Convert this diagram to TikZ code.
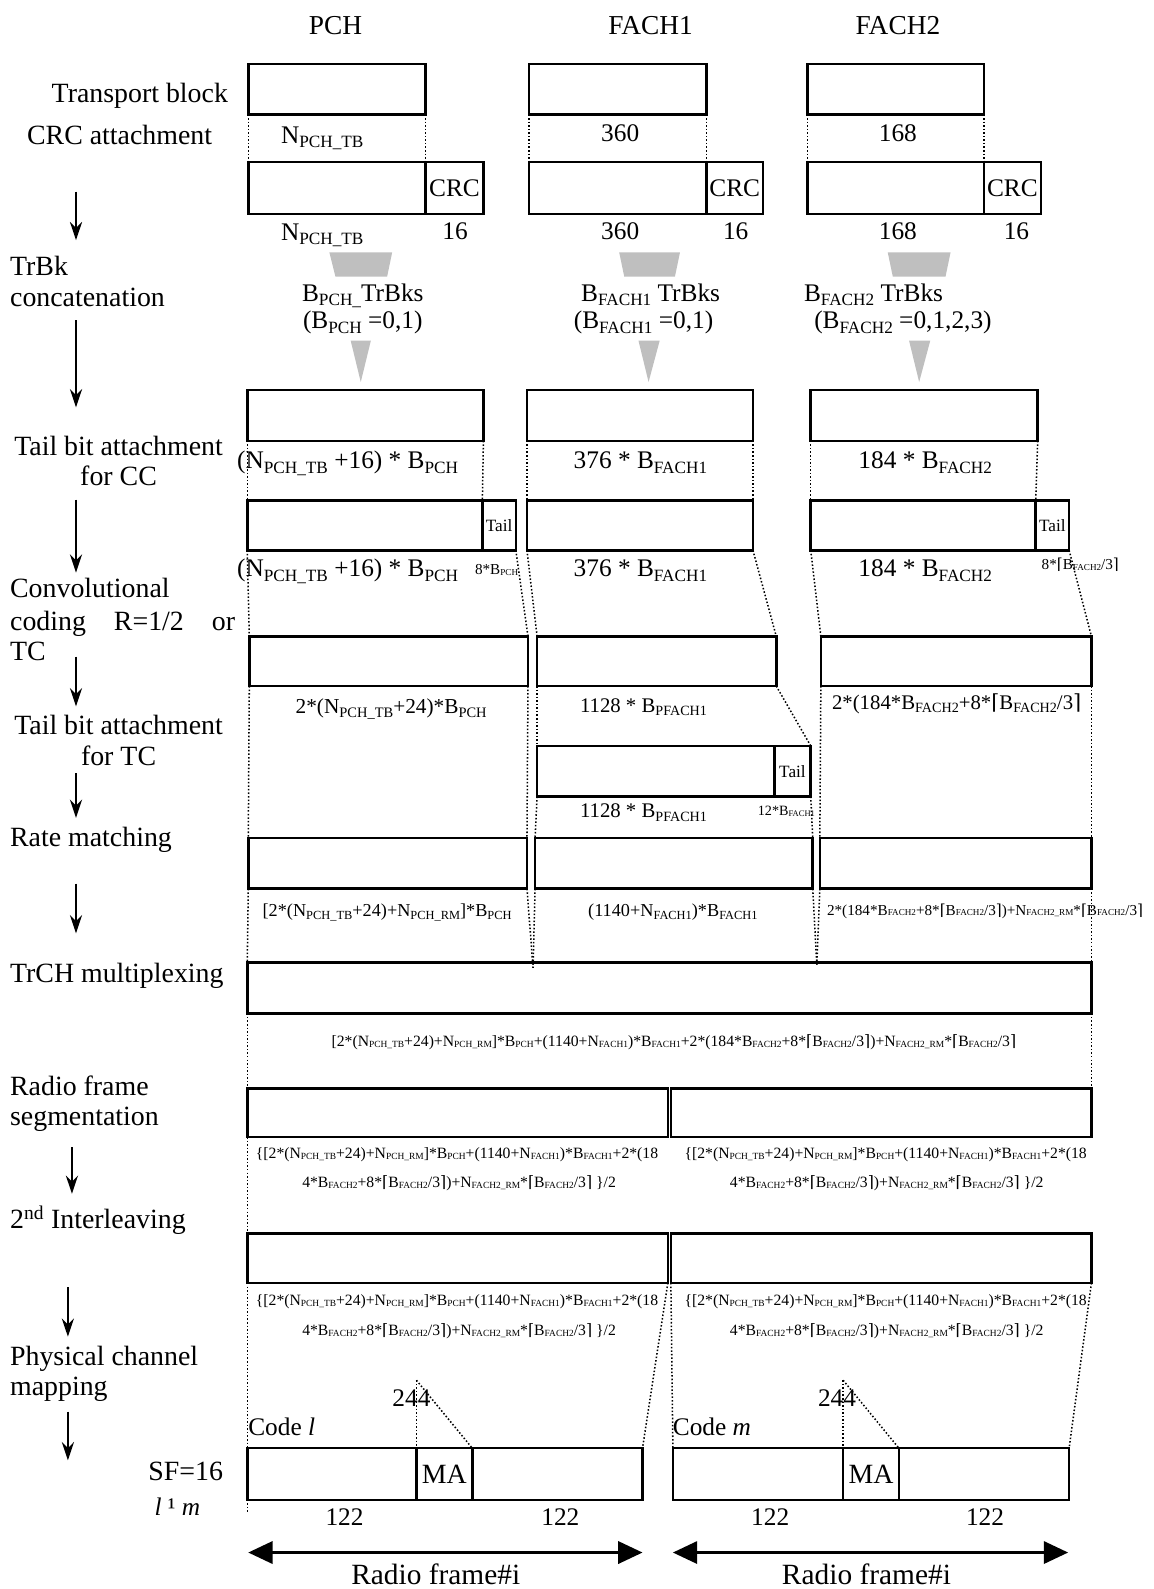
\documentclass[tikz,border=0pt]{standalone}
\usepackage{graphicx}
\usepackage{fontspec}
\setmainfont{Liberation Serif}
\newfontfamily\djv{DejaVu Serif}
\usetikzlibrary{arrows.meta}
\newcommand{\fs}[1]{\fontsize{#1}{#1}\selectfont}
\newcommand{\subr}{0.68}
\newcommand{\subd}{-0.18em}
\newcommand{\sbs}[1]{\raisebox{\subd}{\scalebox{\subr}{#1}}}
\newcommand{\cl}{{\djv ⌈}}
\newcommand{\cry}{{\djv ⌉}}
\tikzset{
  blk/.style={draw, line width=2.5pt, inner sep=0pt, outer sep=0pt, anchor=north west},
  guide/.style={line width=1.5pt, dash pattern=on 1.5pt off 2pt},
  flow/.style={-{Stealth[length=18pt,width=12pt,inset=6pt]}, line width=2pt},
  dbl/.style={{Triangle[length=24pt,width=22pt]}-{Triangle[length=24pt,width=22pt]}, line width=2.5pt},
  T/.style={inner sep=0pt, outer sep=0pt, anchor=base, yshift=-0.33*#1pt, font=\fs{#1}},
  S/.style={T=#1, font={\fs{#1}\def\subr{0.6}\def\subd{-0.05em}}},
  big/.style={T=27.5},
  med/.style={T=25},
  shade/.style={fill=black!25, draw=none}
}
\begin{document}
\begin{tikzpicture}[x=1pt,y=-1pt]
\useasboundingbox (0,0) rectangle (1138,1568);

% ---------------- headers
\node[T=27] (hP) at (331,25) {PCH};
\node[T=27] (hF1) at (642,25) {FACH1};
\node[T=27] (hF2) at (886,25) {FACH2};

% ---------------- left labels
\node[big] (lTB) at (138,92) {Transport block};
\node[big] (lCRC) at (118,134) {CRC attachment};
\node[big, anchor=base west] (lTrBk) at (10,263) {TrBk};
\node[big, anchor=base west] (lConc) at (10,293) {concatenation};
\node[big] (lTail1) at (117,440) {Tail bit attachment};
\node[big] (lTail1b) at (117,470) {for CC};
\node[big, anchor=base west] (lConv) at (10,581) {Convolutional};
\node[big, anchor=base west] (lCod) at (10,613) {\makebox[222pt][s]{coding R=1/2 or}};
\node[big, anchor=base west] (lTC) at (10,643) {TC};
\node[big] (lTail2) at (117,716) {Tail bit attachment};
\node[big] (lTail2b) at (117,746) {for TC};
\node[big, anchor=base west] (lRM) at (10,826) {Rate matching};
\node[big, anchor=base west] (lMux) at (10,960) {TrCH multiplexing};
\node[big, anchor=base west] (lRF) at (10,1072) {Radio frame};
\node[big, anchor=base west] (lSeg) at (10,1102) {segmentation};
\node[big, anchor=base west] (lIL) at (10,1203) {2\textsuperscript{nd} Interleaving};
\node[big, anchor=base west] (lPh) at (10,1338) {Physical channel};
\node[big, anchor=base west] (lMap) at (10,1368) {mapping};
\node[big, anchor=base east] (lSF) at (220,1452) {SF=16};
\node[med] (lLM) at (175,1487) {\textit{l} ¹ \textit{m}};

% ---------------- left arrows
\coordinate (a1s) at (75,189);  \coordinate (a1e) at (75,237);
\coordinate (a2s) at (75,316);  \coordinate (a2e) at (75,402);
\coordinate (a3s) at (75,493);  \coordinate (a3e) at (75,565);
\coordinate (a4s) at (75,648);  \coordinate (a4e) at (75,697);
\coordinate (a5s) at (75,763);  \coordinate (a5e) at (75,807);
\coordinate (a6s) at (75,872);  \coordinate (a6e) at (75,921);
\coordinate (a7s) at (71,1132); \coordinate (a7e) at (71,1178);
\coordinate (a8s) at (67,1270); \coordinate (a8e) at (67,1319);
\coordinate (a9s) at (67,1393); \coordinate (a9e) at (67,1441);
\foreach \i in {1,...,9} { \draw[flow] (a\i s) -- (a\i e); }

% ---------------- row 1: transport blocks
\node[blk, minimum width=175pt, minimum height=50pt] (tbP) at (245,63) {};
\node[blk, minimum width=175pt, minimum height=50pt] (tbF1) at (522,63) {};
\node[blk, minimum width=174pt, minimum height=50pt] (tbF2) at (797,63) {};
\node[med] (n1) at (318,133) {N\sbs{PCH\_TB}};
\node[med] (n2) at (612,131) {360};
\node[med] (n3) at (886,131) {168};

% ---------------- row 2: CRC
\node[blk, minimum width=175pt, minimum height=51pt] (crcP) at (245,160) {};
\node[blk, minimum width=57pt, minimum height=51pt, font=\fs{25}] (crcPc) at (420,160) {CRC};
\node[blk, minimum width=175pt, minimum height=51pt] (crcF1) at (522,160) {};
\node[blk, minimum width=56pt, minimum height=51pt, font=\fs{25}] (crcF1c) at (697,160) {CRC};
\node[blk, minimum width=174pt, minimum height=51pt] (crcF2) at (797,160) {};
\node[blk, minimum width=56pt, minimum height=51pt, font=\fs{25}] (crcF2c) at (971,160) {CRC};
\node[med] (n4) at (318,229) {N\sbs{PCH\_TB}};
\node[med] (n5) at (449,228) {16};
\node[med] (n6) at (612,228) {360};
\node[med] (n7) at (726,228) {16};
\node[med] (n8) at (886,228) {168};
\node[med] (n9) at (1003,228) {16};

% ---------------- concatenation shapes
\fill[shade] (325,249) -- (387,249) -- (382,273) -- (331,273) -- cycle;
\fill[shade] (611,249) -- (671,249) -- (666,273) -- (616,273) -- cycle;
\fill[shade] (876,249) -- (938,249) -- (933,273) -- (881,273) -- cycle;
\node[med] (b1) at (358,289) {B\sbs{PCH\_}TrBks};
\node[med] (b2) at (358,316) {(B\sbs{PCH} =0,1)};
\node[med] (b3) at (642,289) {B\sbs{FACH1} TrBks};
\node[med] (b4) at (635,316) {(B\sbs{FACH1} =0,1)};
\node[med] (b5) at (862,289) {B\sbs{FACH2} TrBks};
\node[med] (b6) at (891,316) {(B\sbs{FACH2} =0,1,2,3)};
\fill[shade] (346,336) -- (366,336) -- (356,377) -- cycle;
\fill[shade] (630,336) -- (651,336) -- (640,377) -- cycle;
\fill[shade] (897,336) -- (918,336) -- (907,377) -- cycle;

% ---------------- row 3
\node[blk, minimum width=233pt, minimum height=50pt] (catP) at (244,385) {};
\node[blk, minimum width=223pt, minimum height=50pt] (catF1) at (520,385) {};
\node[blk, minimum width=224pt, minimum height=50pt] (catF2) at (800,385) {};
\node[med] (r3a) at (343,454) {(N\sbs{PCH\_TB} +16) * B\sbs{PCH}};
\node[med] (r3b) at (632,454) {376 * B\sbs{FACH1}};
\node[med] (r3c) at (913,454) {184 * B\sbs{FACH2}};

% ---------------- row 4
\node[blk, minimum width=232pt, minimum height=49pt] (ccP) at (244,494) {};
\node[blk, minimum width=33pt, minimum height=49pt, font=\fs{17}] (ccPt) at (476,494) {Tail};
\node[blk, minimum width=223pt, minimum height=49pt] (ccF1) at (520,494) {};
\node[blk, minimum width=222pt, minimum height=49pt] (ccF2) at (800,494) {};
\node[blk, minimum width=33pt, minimum height=49pt, font=\fs{17}] (ccF2t) at (1022,494) {Tail};
\node[med] (r4a) at (343,561) {(N\sbs{PCH\_TB} +16) * B\sbs{PCH}};
\node[S=15] (r4s1) at (490,562) {8*B\sbs{PCH}};
\node[med] (r4b) at (632,561) {376 * B\sbs{FACH1}};
\node[med] (r4c) at (913,561) {184 * B\sbs{FACH2}};
\node[S=15] (r4s2) at (1066,557) {8*\cl B\sbs{FACH2}/3\cry};

% ---------------- row 5: convolutional coding
\node[blk, minimum width=275pt, minimum height=49pt] (cvP) at (246,628) {};
\node[blk, minimum width=236pt, minimum height=49pt] (cvF1) at (530,628) {};
\node[blk, minimum width=267pt, minimum height=49pt] (cvF2) at (810,628) {};
\node[T=21] (r5a) at (386,697) {2*(N\sbs{PCH\_TB}+24)*B\sbs{PCH}};
\node[T=20.5] (r5b) at (635,696) {1128 * B\sbs{PFACH1}};
\node[T=20.5] (r5c) at (944,693) {2*(184*B\sbs{FACH2}+8*\cl B\sbs{FACH2}/3\cry};

% ---------------- row 6: TC tail
\node[blk, minimum width=234pt, minimum height=50pt] (tcF1) at (530,736) {};
\node[blk, minimum width=36pt, minimum height=50pt, font=\fs{17}] (tcF1t) at (764,736) {Tail};
\node[T=20.5] (r6a) at (635,800) {1128 * B\sbs{PFACH1}};
\node[S=14] (r6s) at (776,800) {12*B\sbs{FACH1}};

% ---------------- row 7: rate matching
\node[blk, minimum width=275pt, minimum height=50pt] (rmP) at (245,827) {};
\node[blk, minimum width=274pt, minimum height=50pt] (rmF1) at (528,827) {};
\node[blk, minimum width=268pt, minimum height=50pt] (rmF2) at (809,827) {};
\node[T=18] (r7a) at (382,898) {[2*(N\sbs{PCH\_TB}+24)+N\sbs{PCH\_RM}]*B\sbs{PCH}};
\node[T=18] (r7b) at (664,898) {(1140+N\sbs{FACH1})*B\sbs{FACH1}};
\node[S=15] (r7c) at (972,898) {2*(184*B\sbs{FACH2}+8*\cl B\sbs{FACH2}/3\cry)+N\sbs{FACH2\_RM}*\cl B\sbs{FACH2}/3\cry};

% ---------------- row 8: multiplexing
\node[blk, minimum width=833pt, minimum height=50pt] (mux) at (244,950) {};
\node[S=15.5] (r8) at (665,1028) {[2*(N\sbs{PCH\_TB}+24)+N\sbs{PCH\_RM}]*B\sbs{PCH}+(1140+N\sbs{FACH1})*B\sbs{FACH1}+2*(184*B\sbs{FACH2}+8*\cl B\sbs{FACH2}/3\cry)+N\sbs{FACH2\_RM}*\cl B\sbs{FACH2}/3\cry};

% ---------------- row 9: segmentation
\node[blk, minimum width=415pt, minimum height=48pt] (seg1) at (244,1074) {};
\node[blk, minimum width=415pt, minimum height=48pt] (seg2) at (662,1074) {};
\node[S=15.5] (s1a) at (451,1138) {\{[2*(N\sbs{PCH\_TB}+24)+N\sbs{PCH\_RM}]*B\sbs{PCH}+(1140+N\sbs{FACH1})*B\sbs{FACH1}+2*(18};
\node[S=15.5] (s1b) at (453,1167) {4*B\sbs{FACH2}+8*\cl B\sbs{FACH2}/3\cry)+N\sbs{FACH2\_RM}*\cl B\sbs{FACH2}/3\cry\ \}/2};
\node[S=15.5] (s2a) at (874,1138) {\{[2*(N\sbs{PCH\_TB}+24)+N\sbs{PCH\_RM}]*B\sbs{PCH}+(1140+N\sbs{FACH1})*B\sbs{FACH1}+2*(18};
\node[S=15.5] (s2b) at (875,1167) {4*B\sbs{FACH2}+8*\cl B\sbs{FACH2}/3\cry)+N\sbs{FACH2\_RM}*\cl B\sbs{FACH2}/3\cry\ \}/2};

% ---------------- row 10: interleaving
\node[blk, minimum width=415pt, minimum height=49pt] (il1) at (244,1217) {};
\node[blk, minimum width=415pt, minimum height=49pt] (il2) at (662,1217) {};
\node[S=15.5] (i1a) at (451,1283) {\{[2*(N\sbs{PCH\_TB}+24)+N\sbs{PCH\_RM}]*B\sbs{PCH}+(1140+N\sbs{FACH1})*B\sbs{FACH1}+2*(18};
\node[S=15.5] (i1b) at (453,1313) {4*B\sbs{FACH2}+8*\cl B\sbs{FACH2}/3\cry)+N\sbs{FACH2\_RM}*\cl B\sbs{FACH2}/3\cry\ \}/2};
\node[S=15.5] (i2a) at (874,1283) {\{[2*(N\sbs{PCH\_TB}+24)+N\sbs{PCH\_RM}]*B\sbs{PCH}+(1140+N\sbs{FACH1})*B\sbs{FACH1}+2*(18};
\node[S=15.5] (i2b) at (875,1313) {4*B\sbs{FACH2}+8*\cl B\sbs{FACH2}/3\cry)+N\sbs{FACH2\_RM}*\cl B\sbs{FACH2}/3\cry\ \}/2};

% ---------------- row 11: physical channels
\node[blk, minimum width=390pt, minimum height=51pt] (pc1) at (244,1429) {};
\node[blk, minimum width=55pt, minimum height=51pt, font=\fs{27.5}] (ma1) at (411,1429) {MA};
\node[blk, minimum width=391pt, minimum height=51pt] (pc2) at (664,1429) {};
\node[blk, minimum width=55pt, minimum height=51pt, font=\fs{27.5}] (ma2) at (832,1429) {MA};
\node[med] (c244a) at (406,1380) {244};
\node[med] (c244b) at (826,1380) {244};
\node[med, anchor=base west] (codeL) at (245,1408) {Code \textit{l}};
\node[med, anchor=base west] (codeM) at (664,1408) {Code \textit{m}};
\node[med] (q1) at (340,1497) {122};
\node[med] (q2) at (553,1497) {122};
\node[med] (q3) at (760,1497) {122};
\node[med] (q4) at (972,1497) {122};

% ---------------- radio frame arrows
\coordinate (rf1a) at (245,1532); \coordinate (rf1b) at (634,1532);
\coordinate (rf2a) at (664,1532); \coordinate (rf2b) at (1054,1532);
\draw[dbl] (rf1a) -- (rf1b);
\draw[dbl] (rf2a) -- (rf2b);
\node[T=29] (rfl1) at (430,1554) {Radio frame\#i};
\node[T=29] (rfl2) at (855,1554) {Radio frame\#i};

% ---------------- dotted guides
\coordinate (m1) at (526,955);
\coordinate (m2) at (806,952);
\coordinate (t1) at (411,1362);
\coordinate (t2) at (832,1362);
\coordinate (stub) at (244,1492);
\draw[guide] (tbP.south west) -- (crcP.north west);
\draw[guide] (tbP.south east) -- (crcP.north east);
\draw[guide] (tbF1.south west) -- (crcF1.north west);
\draw[guide] (tbF1.south east) -- (crcF1.north east);
\draw[guide] (tbF2.south west) -- (crcF2.north west);
\draw[guide] (tbF2.south east) -- (crcF2.north east);
\draw[guide] (catP.south west) -- (ccP.north west);
\draw[guide] (catP.south east) -- (ccP.north east);
\draw[guide] (catF1.south west) -- (ccF1.north west);
\draw[guide] (catF1.south east) -- (ccF1.north east);
\draw[guide] (catF2.south west) -- (ccF2.north west);
\draw[guide] (catF2.south east) -- (ccF2.north east);
\draw[guide] (ccP.south west) -- (cvP.north west);
\draw[guide] (ccPt.south east) -- (cvP.north east);
\draw[guide] (ccF1.south west) -- (cvF1.north west);
\draw[guide] (ccF1.south east) -- (cvF1.north east);
\draw[guide] (ccF2.south west) -- (cvF2.north west);
\draw[guide] (ccF2t.south east) -- (cvF2.north east);
\draw[guide] (cvP.south west) -- (rmP.north west);
\draw[guide] (cvP.south east) -- (rmP.north east);
\draw[guide] (cvF1.south west) -- (tcF1.north west);
\draw[guide] (cvF1.south east) -- (tcF1t.north east);
\draw[guide] (cvF2.south west) -- (rmF2.north west);
\draw[guide] (cvF2.south east) -- (rmF2.north east);
\draw[guide] (tcF1.south west) -- (rmF1.north west);
\draw[guide] (tcF1t.south east) -- (rmF1.north east);
\draw[guide] (rmP.south west) -- (mux.north west);
\draw[guide] (rmP.south east) -- (m1);
\draw[guide] (rmF1.south west) -- (m1);
\draw[guide] (rmF1.south east) -- (m2);
\draw[guide] (rmF2.south west) -- (m2);
\draw[guide] (rmF2.south east) -- (mux.north east);
\draw[guide] (mux.south west) -- (seg1.north west);
\draw[guide] (mux.south east) -- (seg2.north east);
\draw[guide] (seg1.south west) -- (il1.north west);
\draw[guide] (il1.south west) -- (pc1.north west);
\draw[guide] (il1.south east) -- (pc1.north east);
\draw[guide] (il2.south west) -- (pc2.north west);
\draw[guide] (il2.south east) -- (pc2.north east);
\draw[guide] (pc1.south west) -- (stub);
\draw[guide] (t1) -- (ma1.north west);
\draw[guide] (t1) -- (ma1.north east);
\draw[guide] (t2) -- (ma2.north west);
\draw[guide] (t2) -- (ma2.north east);
\end{tikzpicture}
\end{document}
